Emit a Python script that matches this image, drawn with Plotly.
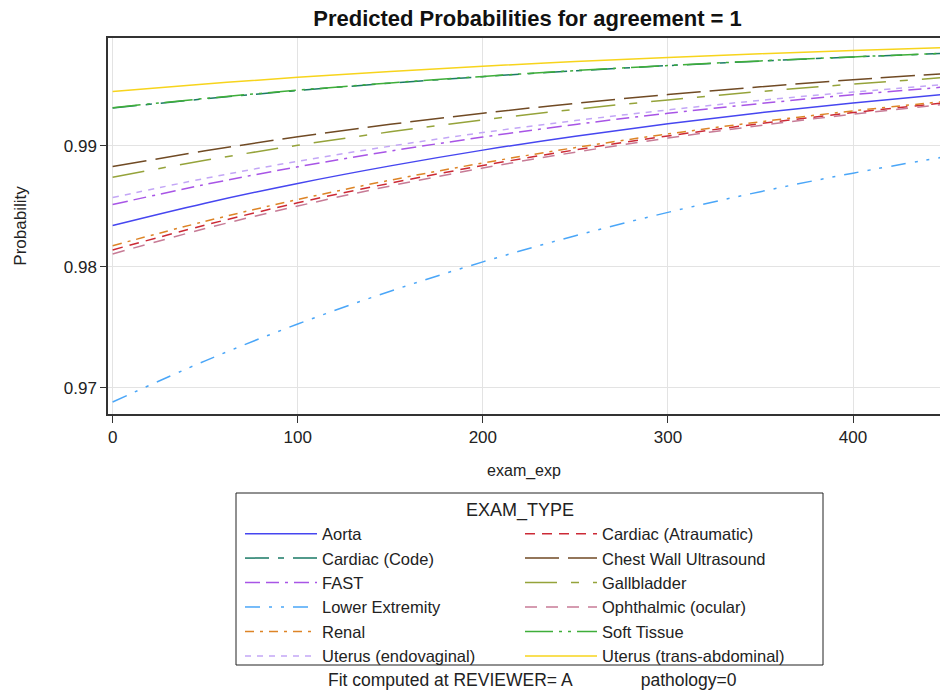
import plotly.graph_objects as go

exam_exp = [0, 50, 100, 150, 200, 250, 300, 350, 400, 450]

aorta = [0.98342, 0.98526, 0.98689, 0.98834, 0.98964, 0.99079, 0.99181, 0.99273, 0.99354, 0.99426]
cardiac_atraumatic = [0.98140, 0.98345, 0.98529, 0.98691, 0.98837, 0.98966, 0.99081, 0.99183, 0.99274, 0.99355]
cardiac_code = [0.99311, 0.99388, 0.99456, 0.99517, 0.99571, 0.99619, 0.99662, 0.99699, 0.99733, 0.99763]
chest_wall = [0.98828, 0.98958, 0.99074, 0.99177, 0.99269, 0.99350, 0.99423, 0.99487, 0.99545, 0.99596]
fast = [0.98515, 0.98680, 0.98826, 0.98956, 0.99072, 0.99176, 0.99268, 0.99349, 0.99422, 0.99486]
gallbladder = [0.98740, 0.98880, 0.99004, 0.99115, 0.99214, 0.99301, 0.99379, 0.99448, 0.99509, 0.99564]
lower_extremity = [0.96884, 0.97224, 0.97528, 0.97799, 0.98041, 0.98257, 0.98450, 0.98621, 0.98774, 0.98910]
ophthalmic = [0.98107, 0.98316, 0.98502, 0.98668, 0.98816, 0.98947, 0.99064, 0.99168, 0.99261, 0.99343]
renal = [0.98175, 0.98376, 0.98556, 0.98716, 0.98858, 0.98985, 0.99098, 0.99198, 0.99288, 0.99367]
soft_tissue = [0.99315, 0.99391, 0.99459, 0.99519, 0.99573, 0.99621, 0.99663, 0.99701, 0.99734, 0.99764]
uterus_endo = [0.98573, 0.98731, 0.98872, 0.98997, 0.99109, 0.99208, 0.99296, 0.99375, 0.99444, 0.99506]
uterus_trans = [0.99449, 0.99511, 0.99565, 0.99614, 0.99657, 0.99695, 0.99730, 0.99760, 0.99787, 0.99811]

series = [
    ("Aorta", aorta, "#4646f0", "solid"),
    ("Cardiac (Atraumatic)", cardiac_atraumatic, "#cc2a36", "10px,7px"),
    ("Cardiac (Code)", cardiac_code, "#1a7a66", "24px,9px,6px,9px"),
    ("Chest Wall Ultrasound", chest_wall, "#704a24", "34px,9px"),
    ("FAST", fast, "#a855e6", "15px,6px,13px,6px,3px,6px"),
    ("Gallbladder", gallbladder, "#95a33a", "32px,14px,8px,14px"),
    ("Lower Extremity", lower_extremity, "#4aa6f8", "15px,9px,3px,9px,3px,9px"),
    ("Ophthalmic (ocular)", ophthalmic, "#c77b96", "12px,9px"),
    ("Renal", renal, "#dd8426", "9px,6px,3px,6px"),
    ("Soft Tissue", soft_tissue, "#3fae3a", "28px,6px,3px,6px,3px,6px"),
    ("Uterus (endovaginal)", uterus_endo, "#c3a6f6", "6px,6px"),
    ("Uterus (trans-abdominal)", uterus_trans, "#f7d41c", "solid"),
]

font_family = "Liberation Sans, Arial, sans-serif"

fig = go.Figure()
for name, vals, color, dash in series:
    fig.add_trace(go.Scatter(
        x=exam_exp, y=vals, mode="lines", name=name,
        line=dict(color=color, width=1.5, dash=dash, shape="spline"),
    ))

# plot area: left 108px, top 38px, width 832px, height 376px
PW, PH = 832.0, 376.0
fig.update_layout(
    width=940, height=692,
    margin=dict(l=108, r=0, t=38, b=278),
    paper_bgcolor="white", plot_bgcolor="white",
    font=dict(family=font_family, size=16, color="#222"),
    title=dict(text="<b>Predicted Probabilities for agreement = 1</b>",
               x=0.5612, xanchor="center", y=0.974, yanchor="middle",
               font=dict(size=22, color="#111", family=font_family)),
    showlegend=True,
    legend=dict(
        orientation="h", x=(240 - 108) / PW, xanchor="left", y=-79 / PH, yanchor="top",
        borderwidth=0, bgcolor="rgba(255,255,255,0)",
        font=dict(size=16.5, color="#222"),
        title=dict(text="EXAM_TYPE", side="top center", font=dict(size=18)),
        entrywidth=193, entrywidthmode="pixels",
        itemwidth=72, traceorder="normal",
    ),
    shapes=[dict(
        type="rect", xref="paper", yref="paper",
        x0=(236 - 108) / PW, x1=(823 - 108) / PW, y0=(414 - 665) / PH, y1=(414 - 493) / PH,
        line=dict(color="#222", width=1), fillcolor="rgba(0,0,0,0)", layer="above",
    )],
    annotations=[dict(
        text="Fit computed at REVIEWER= A" + "&nbsp;" * 14 + "pathology=0",
        xref="paper", yref="paper", x=(532 - 108) / PW, y=(414 - 692) / PH,
        xanchor="center", yanchor="bottom",
        showarrow=False, font=dict(size=17.5, color="#222"),
    )],
)

fig.update_xaxes(
    range=[-2.5, 447], tick0=0, dtick=100,
    showgrid=True, gridcolor="#e3e3e3", gridwidth=1,
    showline=True, linecolor="#333", linewidth=1.5, mirror=True,
    ticks="outside", ticklen=7, tickcolor="#333",
    zeroline=False,
    title=dict(text="exam_exp", standoff=19, font=dict(size=16)),
    tickfont=dict(size=17),
)
fig.update_yaxes(
    range=[0.96785, 0.9989], tick0=0.97, dtick=0.01, tickformat=".2f",
    showgrid=True, gridcolor="#e3e3e3", gridwidth=1,
    showline=True, linecolor="#333", linewidth=1.5, mirror=False,
    ticks="outside", ticklen=6, tickcolor="#333",
    zeroline=False,
    title=dict(text="Probability", standoff=33, font=dict(size=17)),
    tickfont=dict(size=17),
)

fig.write_html("out.html")
